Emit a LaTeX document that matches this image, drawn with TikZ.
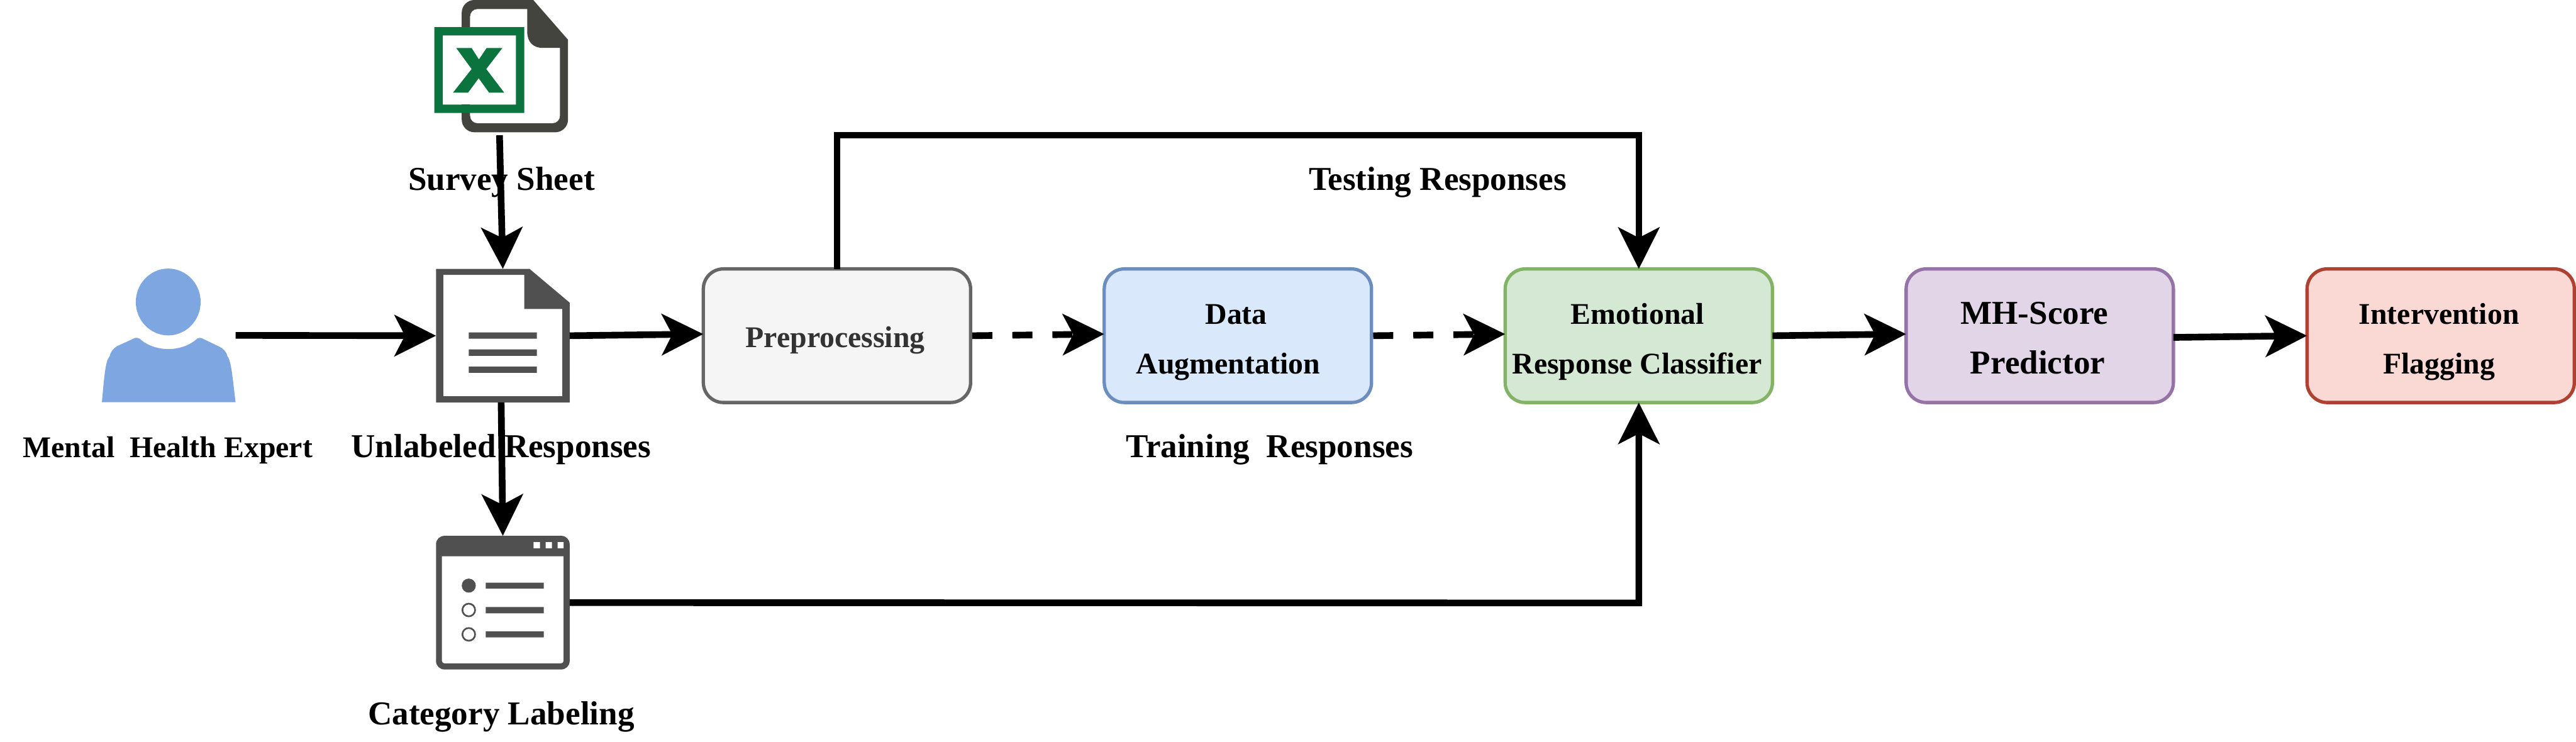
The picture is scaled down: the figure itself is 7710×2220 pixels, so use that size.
\documentclass[tikz,border=0pt]{standalone}
\usepackage{fontspec}
\setmainfont{Liberation Serif}
\usetikzlibrary{arrows.meta}
\definecolor{xlgrey}{HTML}{44443F}
\definecolor{xlgreen}{HTML}{0B733D}
\definecolor{icongrey}{HTML}{505050}
\definecolor{personblue}{HTML}{7EA6E0}
\definecolor{pref}{HTML}{F5F5F5}\definecolor{pres}{HTML}{666666}
\definecolor{augf}{HTML}{DAE8FC}\definecolor{augs}{HTML}{6C8EBF}
\definecolor{clsf}{HTML}{D5E8D4}\definecolor{clss}{HTML}{82B366}
\definecolor{mhf}{HTML}{E1D5E7}\definecolor{mhs}{HTML}{9673A6}
\definecolor{intf}{HTML}{FAD9D5}\definecolor{ints}{HTML}{AE4132}
\definecolor{pretext}{HTML}{333333}
\newcommand{\twolines}[2]{\rule{0pt}{10pt}#1\\\rule[-2pt]{0pt}{2pt}#2}
\tikzset{
  x=0.1pt,y=-0.1pt,
  stage/.style={rounded corners=6pt,line width=1pt,minimum width=80pt,minimum height=40pt,
    inner sep=0pt,outer sep=0pt,align=center,font=\fontsize{9}{15}\selectfont\bfseries},
  bigstage/.style={stage,font=\fontsize{10}{15}\selectfont\bfseries},
  caption/.style={anchor=base,inner sep=0pt,font=\fontsize{10}{12}\selectfont\bfseries},
  iconbox/.style={inner sep=0pt,outer sep=0pt,minimum width=#1},
  flow/.style={line width=2pt,-{Stealth[length=12.4pt,width=12.3pt,inset=3.1pt]}},
  dashflow/.style={flow,dash pattern=on 6pt off 6pt},
}
\begin{document}
\begin{tikzpicture}
\useasboundingbox (0,0) rectangle (7710,2220);
\fill[white] (0,0) rectangle (7710,2220);
% captions
\node[caption,font=\fontsize{9}{12}\selectfont\bfseries] (cexpert) at (502,1369) {Mental\ \ Health Expert};
\node[caption] (csheet) at (1501,570) {Survey Sheet};
\node[caption] (cunlab) at (1500,1370) {Unlabeled Responses};
\node[caption] (ccat) at (1500,2169) {Category Labeling};
\node[caption] (ctest) at (4303,570) {Testing Responses};
\node[caption] (ctrain) at (3800,1370) {Training\ \ Responses};
% person
\node[iconbox=40pt,minimum height=40pt] (person) at (505,1004) {};
\fill[personblue] (503.5,904) ellipse [x radius=97,y radius=100];
\fill[personblue] (305,1204) .. controls (312,1130) and (315,1080) .. (328,1067)
  .. controls (333,1048) and (342,1042) .. (351,1036) -- (399,1014)
  .. controls (405,1010) and (415,1009) .. (424,1019)
  .. controls (445,1036) and (475,1045) .. (504,1045)
  .. controls (533,1045) and (563,1036) .. (584,1019)
  .. controls (592,1009) and (602,1010) .. (609,1015) -- (657,1038)
  .. controls (668,1044) and (676,1050) .. (681,1067)
  .. controls (692,1080) and (696,1130) .. (705,1204) -- cycle;
% excel sheet
\node[iconbox=40pt,minimum height=40pt] (sheet) at (1500,205) {};
\fill[xlgrey,even odd rule] (1596,0) -- (1700,119) [rounded corners=3.8pt] -- (1700,396) -- (1382,396) -- (1382,0) [sharp corners] -- cycle
  (1578,27) -- (1578,95) .. controls (1578,125) and (1595,143.5) .. (1625,143.5) -- (1676,143.5)
  [rounded corners=2.2pt] -- (1676,369) -- (1407,369) -- (1407,27) [sharp corners] -- cycle;
\fill[white] (1325.5,106) rectangle (1544,313);
\fill[xlgreen,even odd rule] (1300,81) rectangle (1569,338) (1325.5,106) rectangle (1544,313);
\fill[xlgreen] (1365.7,143.9) -- (1411.6,143.9) -- (1433.4,178) -- (1456.4,143.9) -- (1503.5,143.9)
  -- (1455.3,206.7) -- (1509.2,277.5) -- (1464,277.5) -- (1432.7,234.2) -- (1400.9,277.5)
  -- (1355.8,277.5) -- (1411.6,206.7) -- cycle;
% unlabeled document
\node[iconbox=40pt,minimum height=40pt] (doc) at (1505,1005) {};
\fill[icongrey,even odd rule] (1305,805) -- (1585,805) -- (1705,906) -- (1705,1205) -- (1305,1205) -- cycle
  (1327,823) -- (1569,823) -- (1569,925) -- (1683,925) -- (1683,1186) -- (1327,1186) -- cycle;
\fill[icongrey] (1403,995) rectangle (1607,1014) (1403,1046) rectangle (1607,1065) (1403,1097) rectangle (1607,1116);
% labeling window
\node[iconbox=40pt,minimum height=40pt] (label) at (1505,1804) {};
\fill[icongrey,even odd rule,rounded corners=2.5pt] (1305,1604) rectangle (1705,2004)
  {[sharp corners] (1322.5,1665) -- (1687,1665)} [rounded corners=0.8pt] -- (1687,1986) -- (1322.5,1986) [sharp corners] -- cycle;
\fill[white] (1597,1623) rectangle (1616,1641) (1633,1623) rectangle (1652,1641) (1669,1623) rectangle (1687,1641);
\fill[icongrey] (1403,1753) circle [radius=21];
\draw[icongrey,line width=0.5pt] (1403,1826) circle [radius=19] (1403,1899) circle [radius=19];
\fill[icongrey] (1454,1744) rectangle (1627.5,1762) (1454,1817) rectangle (1627.5,1836) (1454,1890) rectangle (1627.5,1908);
% stages
\node[stage,draw=pres,fill=pref,text=pretext] (pre) at (2505,1005) {\rule{0pt}{9pt}\rule[-2pt]{0pt}{2pt}Preprocessing\hspace*{1pt}};
\node[stage,draw=augs,fill=augf] (aug) at (3705,1005) {\twolines{Data\hspace*{1pt}}{Augmentation\hspace*{5.8pt}}};
\node[stage,draw=clss,fill=clsf] (cls) at (4905,1005) {\twolines{Emotional\hspace*{0.8pt}}{Response Classifier\hspace*{1pt}}};
\node[bigstage,draw=mhs,fill=mhf] (mh) at (6105,1005) {\twolines{MH-Score\hspace*{3.2pt}}{Predictor\hspace*{1.2pt}}};
\node[stage,draw=ints,fill=intf] (int) at (7305,1005) {\twolines{Intervention\hspace*{1pt}}{Flagging\hspace*{1pt}}};
% connectors
\coordinate (bend1) at (2505,405);
\coordinate (bend2) at (4905,405);
\coordinate (bend3) at (4905,1805);
\draw[flow] (person.east) -- (doc.west);
\draw[flow] ([xshift=-0.5pt]sheet.south) -- (doc.north);
\draw[flow] ([xshift=-0.5pt]doc.south) -- (label.north);
\draw[flow] (doc.east) -- ([yshift=0.5pt]pre.west);
\draw[dashflow] ([xshift=0.5pt]pre.east) -- ([yshift=0.5pt]aug.west);
\draw[dashflow] ([xshift=0.5pt]aug.east) -- ([yshift=0.5pt]cls.west);
\draw[flow] (cls.east) -- ([yshift=0.5pt]mh.west);
\draw[flow] ([yshift=-0.5pt]mh.east) -- (int.west);
\draw[flow] (pre.north) -- (bend1) -- (bend2) -- (cls.north);
\draw[flow] (label.east) -- (bend3) -- (cls.south);
\end{tikzpicture}
\end{document}
